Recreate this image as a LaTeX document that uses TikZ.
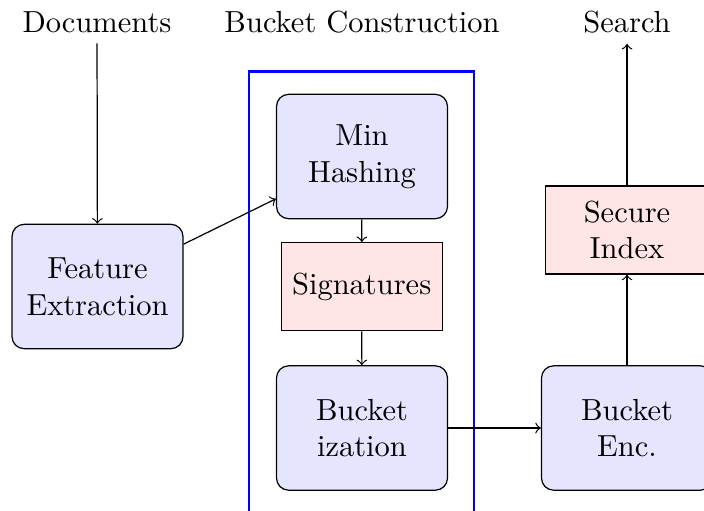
\documentclass[tikz,border=0pt]{standalone}
\usetikzlibrary{arrows}
\begin{document}
\begin{tikzpicture}[x=0.328pt,y=-0.328pt,
  procbox/.style={draw, rounded corners=4pt, fill=blue!10, align=center,
    minimum width=56.1pt, minimum height=40.8pt, inner sep=0pt},
  databox/.style={draw, fill=red!10, align=center,
    minimum width=52.8pt, minimum height=28.9pt, inner sep=0pt},
  heading/.style={align=center},
  flow/.style={->}]
  \useasboundingbox (0,0) rectangle (704,510);
  \clip (0,0) rectangle (704,510);

  % group frame around the bucket construction stages
  \draw[blue, thick] (249,71.7) rectangle (474,540);

  % column headings
  \node[heading] (docs) at (97,22) {Documents};
  \node[heading] (bc) at (362,22) {Bucket Construction};
  \node[heading] (search) at (627,22) {Search};

  % processing stages
  \node[procbox] (fe) at (97.5,286.5) {Feature\\Extraction};
  \node[procbox] (mh) at (362,156.5) {Min\\Hashing};
  \node[databox] (sig) at (361.7,286.7) {Signatures};
  \node[procbox] (bz) at (362,428) {Bucket\\ization};
  \node[procbox] (be) at (627,428) {Bucket\\Enc.};
  \node[databox, minimum width=53.5pt] (si) at (627,230) {Secure\\Index};

  % data flow
  \draw[flow] (docs) -- (fe);
  \draw[flow] (fe) -- (mh);
  \draw[flow] (mh) -- (sig);
  \draw[flow] (sig) -- (bz);
  \draw[flow] (bz) -- (be);
  \draw[flow] (be) -- (si);
  \draw[flow] (si) -- (search);
\end{tikzpicture}
\end{document}
